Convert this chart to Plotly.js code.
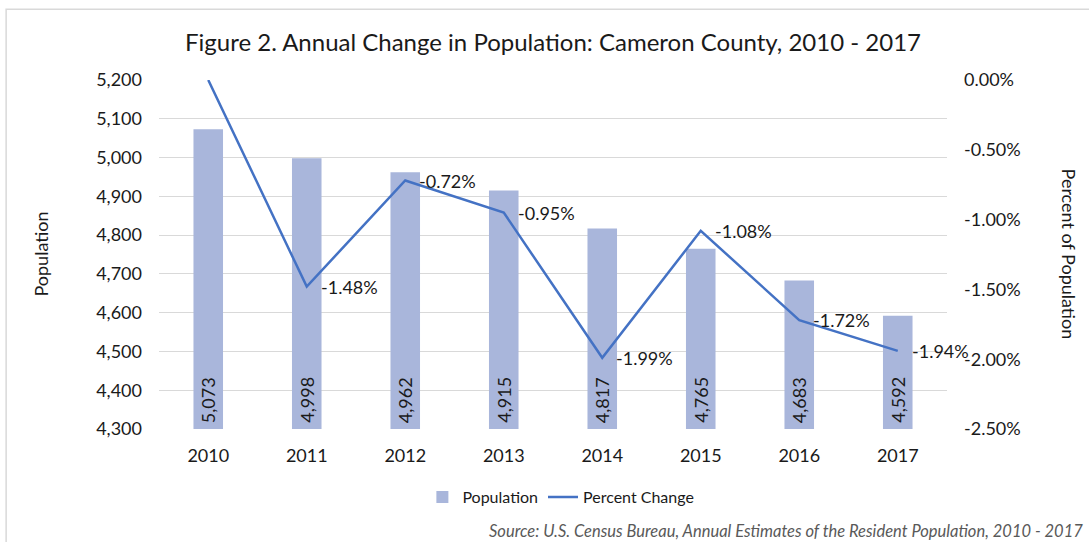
<!DOCTYPE html>
<html>
<head>
<meta charset="utf-8">
<script src="https://cdn.plot.ly/plotly-3.0.1.min.js"></script>
<style>html,body{margin:0;padding:0;background:#fff;}#chart{width:1089px;height:542px;}</style>
</head>
<body>
<div id="chart"></div>
<script>
const years = ["2010","2011","2012","2013","2014","2015","2016","2017"];
const population = [5073, 4998, 4962, 4915, 4817, 4765, 4683, 4592];
const percentChange = [0.00, -1.48, -0.72, -0.95, -1.99, -1.08, -1.72, -1.94];
const percentLabels = ["", "-1.48%", "-0.72%", "-0.95%", "-1.99%", "-1.08%", "-1.72%", "-1.94%"];
const pctTickVals = [0, -0.5, -1.0, -1.5, -2.0, -2.5];
const pctTickText = ["0.00%", "-0.50%", "-1.00%", "-1.50%", "-2.00%", "-2.50%"];
const popAxisMin = 4300;
const popAxisMax = 5200;

const FONT = "Lato, 'Open Sans', sans-serif";
const popText = population.map(v => v.toLocaleString("en-US"));

const bars = {
  type: "bar", name: "Population", x: years,
  base: popAxisMin, y: population.map(v => v - popAxisMin),
  marker: {color: "#A9B6DB"}, width: 0.3,
  hovertext: popText, hoverinfo: "x+text"
};
const line = {
  type: "scatter", mode: "lines", name: "Percent Change", x: years, y: percentChange,
  yaxis: "y2", line: {color: "#4472C4", width: 2.5}, cliponaxis: false
};

const barLabels = years.map((yr, i) => ({
  text: popText[i], xref: "x", yref: "y", x: i, y: popAxisMin,
  xanchor: "center", yanchor: "bottom", yshift: 4, textangle: -90, showarrow: false,
  font: {family: FONT, size: 18, color: "#1a1a1a"}
}));
const lineLabels = years.map((yr, i) => ({
  text: percentLabels[i], xref: "x", yref: "y2", x: i, y: percentChange[i],
  xanchor: "left", yanchor: "middle", xshift: 12, showarrow: false,
  font: {family: FONT, size: 18, color: "#1a1a1a"}
})).filter(a => a.text !== "");

const layout = {
  width: 1089, height: 542,
  margin: {l: 159, r: 142, t: 80, b: 113},
  paper_bgcolor: "#ffffff", plot_bgcolor: "#ffffff",
  font: {family: FONT, size: 18, color: "#1a1a1a"},
  showlegend: true,
  title: {text: "Figure 2. Annual Change in Population: Cameron County, 2010 - 2017",
          font: {family: FONT, size: 24, color: "#1a1a1a"},
          x: 0.5, xref: "paper", y: 1 - 43/542, yref: "container", yanchor: "middle"},
  xaxis: {type: "category", categoryorder: "array", categoryarray: years, range: [-0.5, years.length - 0.5],
          showgrid: false, zeroline: false, showline: false,
          ticks: "", ticklabelstandoff: 14, tickfont: {family: FONT, size: 18, color: "#1a1a1a"}},
  yaxis: {range: [popAxisMin, popAxisMax], dtick: 100, tickformat: ",d", showgrid: true,
          gridcolor: "#D9D9D9", gridwidth: 1, zeroline: false, showline: false,
          ticks: "", ticklabelstandoff: 16, tickfont: {family: FONT, size: 18, color: "#1a1a1a"}},
  yaxis2: {overlaying: "y", side: "right", range: [-2.5, 0],
           tickmode: "array", tickvals: pctTickVals, ticktext: pctTickText,
           showgrid: false, zeroline: false,
           showline: false, ticks: "", ticklabelstandoff: 16,
           tickfont: {family: FONT, size: 18, color: "#1a1a1a"}},
  legend: {orientation: "h", x: 0.51, xanchor: "center", y: -68/349, yanchor: "middle",
           font: {family: FONT, size: 16, color: "#1a1a1a"}},
  annotations: barLabels.concat(lineLabels, [
    {text: "Population", xref: "paper", yref: "paper", x: -0.151, xanchor: "center", y: 0.5, yanchor: "middle",
     textangle: -90, showarrow: false, font: {family: FONT, size: 18, color: "#1a1a1a"}},
    {text: "Percent of Population", xref: "paper", yref: "paper", x: 1.156, xanchor: "center", y: 0.5, yanchor: "middle",
     textangle: 90, showarrow: false, font: {family: FONT, size: 18, color: "#1a1a1a"}},
    {text: "<i>Source: U.S. Census Bureau, Annual Estimates of the Resident Population, 2010 - 2017</i>",
     xref: "paper", yref: "paper", x: 1.175, xanchor: "right", y: -102/349, yanchor: "middle",
     showarrow: false, font: {family: FONT, size: 16.5, color: "#595959"}}
  ]),
  shapes: [
    {type: "rect", xref: "paper", yref: "paper", x0: -0.194, x1: 1.25, y0: 1.203, y1: -0.4,
     line: {color: "#D9D9D9", width: 1.5}, fillcolor: "rgba(0,0,0,0)", layer: "below"}
  ]
};

Plotly.newPlot("chart", [bars, line], layout, {displayModeBar: false, staticPlot: true});
</script>
</body>
</html>
